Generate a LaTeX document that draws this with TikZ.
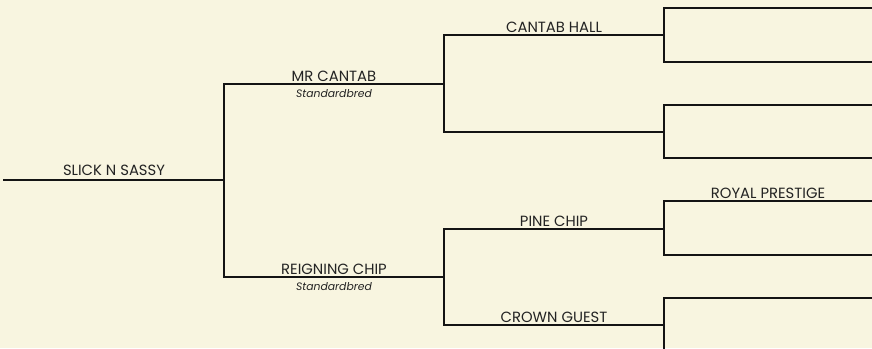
\documentclass[tikz,border=0pt]{standalone}
\usepackage{fontspec}
\setmainfont{Poppins}
\usepackage{tikz}
\definecolor{parchment}{RGB}{248,245,224}
\definecolor{pedline}{RGB}{20,20,20}
\definecolor{pedtext}{RGB}{35,35,35}

\begin{document}
\begin{tikzpicture}[x=1pt,y=-1pt,line cap=rect,
  pedigree/.style={line width=1.2pt,pedline},
  horse/.style={anchor=base,inner sep=0pt,yshift=3pt,text=pedtext,font=\fontsize{14.8}{16}\selectfont},
  breed/.style={anchor=base,inner sep=0pt,yshift=-13.5pt,text=pedtext,font=\itshape\fontsize{10.8}{12}\selectfont}]
  \useasboundingbox[fill=parchment] (0,0) rectangle (872,348);
  \coordinate (h) at (4,180); \coordinate (s) at (224,84); \coordinate (d) at (224,277);
  \coordinate (ss) at (444,35); \coordinate (sd) at (444,132); \coordinate (ds) at (444,229); \coordinate (dd) at (444,325);
  \foreach \n/\y in {sss/8,ssd/62,sds/105,sdd/158,dss/201,dsd/255,dds/298,ddd/356}{\coordinate (\n) at (664,\y);}
  \coordinate (edge) at (872,0);
  \draw[pedigree] (h) -- node[horse,yshift=2pt] (hLbl) {SLICK N SASSY} (h -| s);
  \draw[pedigree] (s) -- (d); \draw[pedigree] (ss) -- (sd); \draw[pedigree] (ds) -- (dd);
  \draw[pedigree] (sss) -- (ssd); \draw[pedigree] (sds) -- (sdd); \draw[pedigree] (dss) -- (dsd); \draw[pedigree] (dds) -- (ddd);
  \draw[pedigree] (s) -- node[horse] (sLbl) {MR CANTAB} node[breed] (sBreed) {Standardbred} (s -| ss);
  \draw[pedigree] (d) -- node[horse] (dLbl) {REIGNING CHIP} node[breed] (dBreed) {Standardbred} (d -| ss);
  \foreach \p/\lab in {ss/CANTAB HALL,sd/,ds/PINE CHIP,dd/CROWN GUEST}{\draw[pedigree] (\p) -- node[horse] (\p Lbl) {\lab} (\p -| sss);}
  \foreach \p in {sss,ssd,sds,sdd,dsd,dds,ddd}{\draw[pedigree] (\p) -- (\p -| edge);}
  \draw[pedigree] (dss) -- node[horse] (dssLbl) {ROYAL PRESTIGE} (dss -| edge);
\end{tikzpicture}
\end{document}
